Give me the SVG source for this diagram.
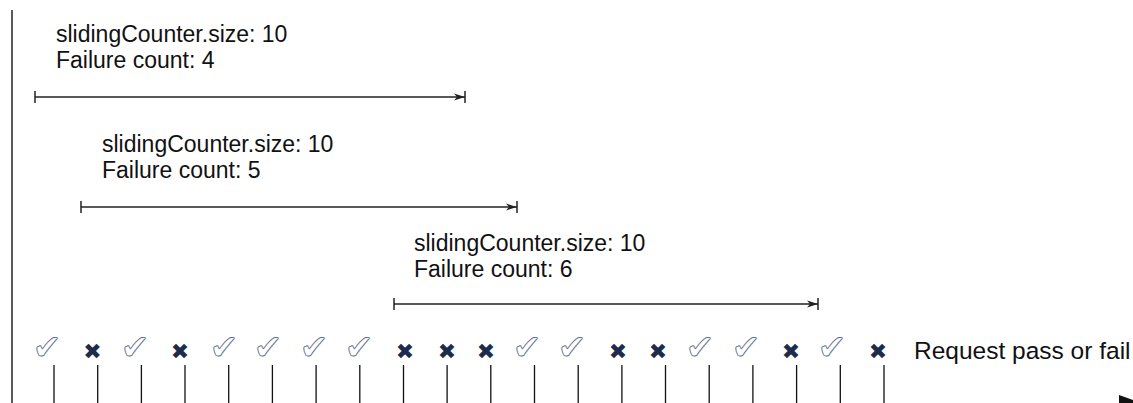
<svg xmlns="http://www.w3.org/2000/svg" width="1133" height="403" viewBox="0 0 1133 403">
<style>
text{font-family:"Liberation Sans",Arial,sans-serif;font-size:23px;fill:#111}
.ln{stroke:#222;stroke-width:1.5;fill:none}
.tk{stroke:#111;stroke-width:1.3}
.ok{font-family:"DejaVu Sans",sans-serif;font-size:34px;fill:#fff;stroke:#62708e;stroke-width:0.9;text-anchor:middle}
.no{font-family:"DejaVu Sans",sans-serif;font-size:22px;fill:#1e2c4b;text-anchor:middle}
</style>
<defs>
<marker id="ah" markerWidth="12" markerHeight="8" refX="11" refY="4" orient="auto" markerUnits="userSpaceOnUse">
<path d="M0,0.5 L11,4 L0,7.5 L3,4 Z" fill="#222"/>
</marker>
</defs>
<line x1="12" y1="10" x2="12" y2="403" class="ln"/>
<g id="window1">
<text x="56" y="41.5">slidingCounter.size: 10</text>
<text x="56" y="67.5">Failure count: 4</text>
</g>
<g id="window2">
<text x="102" y="151.5">slidingCounter.size: 10</text>
<text x="102" y="177.5">Failure count: 5</text>
</g>
<g id="window3">
<text x="414" y="250.5">slidingCounter.size: 10</text>
<text x="414" y="276.5">Failure count: 6</text>
</g>
<g id="connectors">
<line x1="35" y1="97" x2="465" y2="97" class="ln" marker-end="url(#ah)"/>
<line x1="35" y1="91" x2="35" y2="103" class="ln"/>
<line x1="465" y1="91" x2="465" y2="103" class="ln"/>
<line x1="81" y1="207" x2="517" y2="207" class="ln" marker-end="url(#ah)"/>
<line x1="81" y1="201" x2="81" y2="213" class="ln"/>
<line x1="517" y1="201" x2="517" y2="213" class="ln"/>
<line x1="394" y1="304" x2="818" y2="304" class="ln" marker-end="url(#ah)"/>
<line x1="394" y1="298" x2="394" y2="310" class="ln"/>
<line x1="818" y1="298" x2="818" y2="310" class="ln"/>
<path d="M1119,395 L1133,400 L1133,403 L1119,403 Z" fill="#111"/>
</g>
<g id="ticks">
<line class="tk" x1="54" y1="365" x2="54" y2="403"/>
<line class="tk" x1="97.7" y1="365" x2="97.7" y2="403"/>
<line class="tk" x1="141.4" y1="365" x2="141.4" y2="403"/>
<line class="tk" x1="185" y1="365" x2="185" y2="403"/>
<line class="tk" x1="228.7" y1="365" x2="228.7" y2="403"/>
<line class="tk" x1="272.4" y1="365" x2="272.4" y2="403"/>
<line class="tk" x1="316.1" y1="365" x2="316.1" y2="403"/>
<line class="tk" x1="359.8" y1="365" x2="359.8" y2="403"/>
<line class="tk" x1="403.5" y1="365" x2="403.5" y2="403"/>
<line class="tk" x1="447.1" y1="365" x2="447.1" y2="403"/>
<line class="tk" x1="490.8" y1="365" x2="490.8" y2="403"/>
<line class="tk" x1="534.5" y1="365" x2="534.5" y2="403"/>
<line class="tk" x1="578.2" y1="365" x2="578.2" y2="403"/>
<line class="tk" x1="621.9" y1="365" x2="621.9" y2="403"/>
<line class="tk" x1="665.5" y1="365" x2="665.5" y2="403"/>
<line class="tk" x1="709.2" y1="365" x2="709.2" y2="403"/>
<line class="tk" x1="752.9" y1="365" x2="752.9" y2="403"/>
<line class="tk" x1="796.6" y1="365" x2="796.6" y2="403"/>
<line class="tk" x1="840.3" y1="365" x2="840.3" y2="403"/>
<line class="tk" x1="884" y1="365" x2="884" y2="403"/>
</g>
<g id="outcomes">
<text class="ok" x="47" y="359">✔</text>
<text class="no" x="92.5" y="359">✖</text>
<text class="ok" x="135" y="359">✔</text>
<text class="no" x="180" y="359">✖</text>
<text class="ok" x="224" y="359">✔</text>
<text class="ok" x="268" y="359">✔</text>
<text class="ok" x="314" y="359">✔</text>
<text class="ok" x="359" y="359">✔</text>
<text class="no" x="405" y="359">✖</text>
<text class="no" x="447" y="359">✖</text>
<text class="no" x="486" y="359">✖</text>
<text class="ok" x="527" y="359">✔</text>
<text class="ok" x="572" y="359">✔</text>
<text class="no" x="618" y="359">✖</text>
<text class="no" x="658" y="359">✖</text>
<text class="ok" x="700" y="359">✔</text>
<text class="ok" x="746" y="359">✔</text>
<text class="no" x="791" y="359">✖</text>
<text class="ok" x="832" y="359">✔</text>
<text class="no" x="878" y="359">✖</text>
<text x="914" y="359" style="font-size:24.5px">Request pass or fail</text>
</g>
</svg>
